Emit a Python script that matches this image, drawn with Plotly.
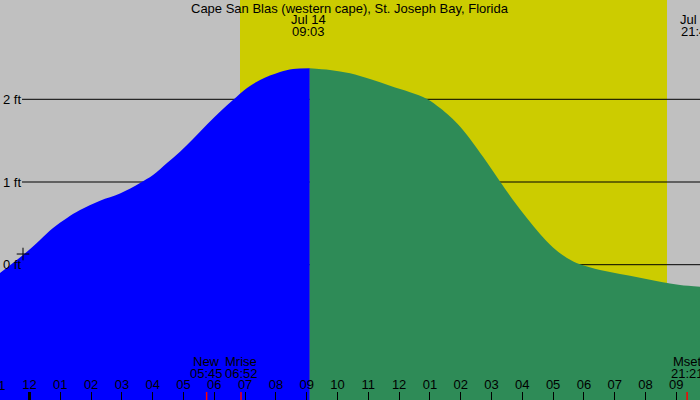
import plotly.graph_objects as go

# ---- data (hours since midnight Jul 14, heights in ft) ----
tide_hours = [-0.958, -0.211, 0.341, 0.763, 1.218, 1.640, 2.289, 2.938, 3.588, 4.010,
              4.464, 4.886, 5.308, 5.763, 6.185, 6.607, 7.062, 7.484, 8.133, 8.555,
              9.100, 9.756, 10.406, 11.055, 11.705, 12.354, 12.906, 13.328, 13.653, 13.977,
              14.399, 14.854, 15.276, 15.698, 16.153, 16.575, 16.997, 17.451, 17.873, 18.523,
              19.172, 19.821, 20.471, 21.120, 21.769]
tide_ft = [-0.100, 0.117, 0.299, 0.444, 0.565, 0.661, 0.774, 0.861, 0.988, 1.084,
           1.230, 1.366, 1.520, 1.695, 1.850, 1.991, 2.137, 2.233, 2.330, 2.366,
           2.375, 2.354, 2.314, 2.245, 2.164, 2.085, 2.004, 1.895, 1.792, 1.671,
           1.472, 1.236, 1.006, 0.782, 0.561, 0.371, 0.208, 0.081, 0.005, -0.064,
           -0.112, -0.157, -0.206, -0.245, -0.266]
split_hour = 9.100          # colour change (blue -> green)

hour_ticks = list(range(0, 22))
hour_labels = ["12", "01", "02", "03", "04", "05", "06", "07", "08", "09", "10", "11",
               "12", "01", "02", "03", "04", "05", "06", "07", "08", "09"]
edge_tick_hour = -1
edge_tick_label = "11"
ft_ticks = [0, 1, 2]
ft_labels = ["0 ft", "1 ft", "2 ft"]

daylight = [6.834, 20.698]
title = "Cape San Blas (western cape), St. Joseph Bay, Florida"
tide_events_h = [9.05, 21.70]
tide_events_date = ["Jul 14", "Jul 14"]
tide_events_time = ["09:03", "21:42"]
moon_events_h = [5.75, 6.867, 21.35]
moon_events_name = ["New", "Mrise", "Mset"]
moon_events_time = ["05:45", "06:52", "21:21"]
marker_point = (-0.211, 0.129)

x_range = [-0.958, 21.769]
y_range = [-1.636, 3.2007]

FONT = "Liberation Sans, Arial, sans-serif"
FS = 13
GRAY = "#c0c0c0"
YELLOW = "#cccc00"
BLUE = "#0000ff"
GREEN = "#2e8b57"

fig = go.Figure()

def add_segment(xs, ys, color):
    fig.add_trace(go.Scatter(x=xs, y=[y_range[0] - 1] * len(xs), mode="lines",
                             line=dict(width=0), hoverinfo="skip"))
    fig.add_trace(go.Scatter(x=xs, y=ys, mode="lines",
                             line=dict(width=0, color=color, shape="spline", smoothing=1.0),
                             fill="tonexty", fillcolor=color, hoverinfo="skip"))

blue_x = [h for h in tide_hours if h <= split_hour]
blue_y = tide_ft[:len(blue_x)]
green_x = [h for h in tide_hours if h >= split_hour]
green_y = tide_ft[len(tide_hours) - len(green_x):]
add_segment(blue_x, blue_y, BLUE)
add_segment(green_x, green_y, GREEN)

# plus marker
fig.add_trace(go.Scatter(x=[marker_point[0]], y=[marker_point[1]], mode="markers",
                         marker=dict(symbol="cross-thin", size=9, line=dict(width=1, color="black")),
                         hoverinfo="skip"))

shapes = [dict(type="rect", xref="x", yref="paper", x0=daylight[0], x1=daylight[1], y0=0, y1=1,
               fillcolor=YELLOW, line=dict(width=0), layer="below")]
for v in ft_ticks:
    shapes.append(dict(type="line", xref="paper", yref="y", x0=22 / 700, x1=1, y0=v, y1=v,
                       line=dict(color="black", width=1), layer="below"))
# thick midnight tick
shapes.append(dict(type="line", xref="x", yref="paper", x0=0, x1=0, y0=0, y1=8 / 400,
                   line=dict(color="black", width=3), layer="above"))
for h in moon_events_h:
    shapes.append(dict(type="line", xref="x", yref="paper", x0=h, x1=h, y0=0, y1=8 / 400,
                       line=dict(color="red", width=1.5), layer="above"))

def fnt():
    return dict(family=FONT, size=FS, color="black")

annotations = [dict(text=title, xref="paper", yref="paper", x=0.5, y=1 - 8 / 400, showarrow=False,
                    xanchor="center", yanchor="middle", font=fnt())]
for h, d, t in zip(tide_events_h, tide_events_date, tide_events_time):
    annotations.append(dict(text=d, xref="x", yref="paper", x=h, y=1 - 19.5 / 400, showarrow=False,
                            xanchor="center", yanchor="middle", font=fnt()))
    annotations.append(dict(text=t, xref="x", yref="paper", x=h, y=1 - 31.5 / 400, showarrow=False,
                            xanchor="center", yanchor="middle", font=fnt()))
for h, n, t in zip(moon_events_h, moon_events_name, moon_events_time):
    annotations.append(dict(text=n, xref="x", yref="paper", x=h, y=1 - 361.7 / 400, showarrow=False,
                            xanchor="center", yanchor="middle", font=fnt()))
    annotations.append(dict(text=t, xref="x", yref="paper", x=h, y=1 - 373.5 / 400, showarrow=False,
                            xanchor="center", yanchor="middle", font=fnt()))
# partially visible hour label at the left edge (outside the axis range)
edge_frac = (edge_tick_hour - x_range[0]) / (x_range[1] - x_range[0])
annotations.append(dict(text=edge_tick_label, xref="paper", yref="paper", x=edge_frac, y=1 - 385.5 / 400,
                        showarrow=False, xanchor="center", yanchor="middle", font=fnt()))
shapes.append(dict(type="line", xref="paper", yref="paper", x0=edge_frac, x1=edge_frac, y0=0, y1=8 / 400,
                   line=dict(color="black", width=1), layer="above"))

fig.update_layout(
    width=700, height=400, margin=dict(l=0, r=0, t=0, b=0),
    paper_bgcolor=GRAY, plot_bgcolor=GRAY, showlegend=False,
    shapes=shapes, annotations=annotations,
    xaxis=dict(range=x_range, tickvals=hour_ticks, ticktext=hour_labels, ticks="inside", ticklen=8,
               tickcolor="black", tickwidth=1, ticklabelposition="inside", showgrid=False,
               zeroline=False, showline=False, fixedrange=True, tickfont=fnt()),
    yaxis=dict(range=y_range, tickvals=ft_ticks, ticktext=ft_labels, ticks="",
               ticklabelposition="inside", showgrid=False, zeroline=False, showline=False,
               fixedrange=True, tickfont=fnt()),
)

fig.write_html("out.html")
